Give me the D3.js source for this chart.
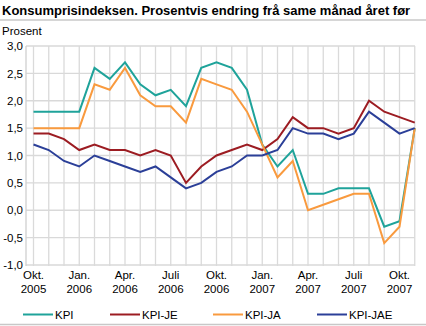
<!DOCTYPE html>
<html><head><meta charset="utf-8">
<script src="https://cdn.jsdelivr.net/npm/d3@7"></script>
<style>
body{margin:0;background:#fff;}
svg{display:block;font-family:"Liberation Sans",Arial,sans-serif;}
</style></head>
<body><svg id="c" width="426" height="326"></svg>
<script>
const months = ["Okt05","Nov05","Des05","Jan06","Feb06","Mar06","Apr06","Mai06","Jun06","Jul06","Aug06","Sep06","Okt06","Nov06","Des06","Jan07","Feb07","Mar07","Apr07","Mai07","Jun07","Jul07","Aug07","Sep07","Okt07","Nov07"];
const kpi    = [1.8,1.8,1.8,1.8,2.6,2.4,2.7,2.3,2.1,2.2,1.9,2.6,2.7,2.6,2.2,1.2,0.8,1.1,0.3,0.3,0.4,0.4,0.4,-0.3,-0.2,1.5];
const kpiJE  = [1.4,1.4,1.3,1.1,1.2,1.1,1.1,1.0,1.1,1.0,0.5,0.8,1.0,1.1,1.2,1.1,1.3,1.7,1.5,1.5,1.4,1.5,2.0,1.8,1.7,1.6];
const kpiJA  = [1.5,1.5,1.5,1.5,2.3,2.2,2.6,2.1,1.9,1.9,1.6,2.4,2.3,2.2,1.8,1.2,0.6,0.9,0.0,0.1,0.2,0.3,0.3,-0.6,-0.3,1.5];
const kpiJAE = [1.2,1.1,0.9,0.8,1.0,0.9,0.8,0.7,0.8,0.6,0.4,0.5,0.7,0.8,1.0,1.0,1.1,1.5,1.4,1.4,1.3,1.4,1.8,1.6,1.4,1.5];
const seriesNames = ["KPI","KPI-JE","KPI-JA","KPI-JAE"];
const seriesColors = ["#1fa39a","#9c1c22","#f99a3e","#2b3f98"];
const yTicks = [-1,-0.5,0,0.5,1,1.5,2,2.5,3];
const xTickMonths = ["Okt05","Jan06","Apr06","Jul06","Okt06","Jan07","Apr07","Jul07","Okt07"];
const xTickLabels = [["Okt.","2005"],["Jan.","2006"],["Apr.","2006"],["Juli","2006"],["Okt.","2006"],["Jan.","2007"],["Apr.","2007"],["Juli","2007"],["Okt.","2007"]];
const title = "Konsumprisindeksen. Prosentvis endring frå same månad året før";
const yLabel = "Prosent";

const svg = d3.select("#c");
const x = d3.scalePoint().domain(months).range([33.5, 414.75]);
const y = d3.scaleLinear().domain([-1,3]).range([265,46]);
const left = 26, right = 415;

// title
svg.append("text").attr("x",2).attr("y",15).attr("font-weight","bold").attr("font-size","13px").attr("fill","#000").text(title);
svg.append("line").attr("x1",0).attr("x2",426).attr("y1",20).attr("y2",20).attr("stroke","#c8c8c8").attr("stroke-width",1.5);
svg.append("text").attr("x",2).attr("y",35).attr("font-size","11.5px").attr("fill","#000").text(yLabel);

// grid
const g = svg.append("g");
g.selectAll("line.h").data(yTicks).join("line")
  .attr("x1",left).attr("x2",right).attr("y1",d=>y(d)).attr("y2",d=>y(d))
  .attr("stroke","#d9d9d9").attr("stroke-width",1.3);
g.selectAll("line.v").data(months).join("line")
  .attr("x1",d=>x(d)).attr("x2",d=>x(d)).attr("y1",y(3)).attr("y2",y(-1)+1)
  .attr("stroke","#dadada").attr("stroke-width",1.3);
g.append("line").attr("x1",left).attr("x2",left).attr("y1",y(3)).attr("y2",y(-1)+1)
  .attr("stroke","#d0d0d0").attr("stroke-width",1.3);

// y axis labels
const yAxis = d3.axisLeft(y).tickValues(yTicks).tickSize(0).tickPadding(0)
  .tickFormat(d=>d3.format(".1f")(d).replace(".",",").replace("−","-"));
const ya = svg.append("g").attr("transform",`translate(${left-3},0)`).call(yAxis);
ya.select(".domain").remove();
ya.selectAll("text").attr("font-size","11.5px").attr("fill","#000").attr("font-family","Liberation Sans, Arial, sans-serif");

// x labels
const xl = svg.append("g");
xTickMonths.forEach((m,i)=>{
  const t = xl.append("text").attr("x",x(m)).attr("y",279).attr("text-anchor","middle").attr("font-size","11.5px").attr("fill","#000");
  t.append("tspan").attr("x",x(m)).attr("dy",0).text(xTickLabels[i][0]);
  t.append("tspan").attr("x",x(m)).attr("dy",13.5).text(xTickLabels[i][1]);
});

// lines
const data = [kpi,kpiJE,kpiJA,kpiJAE];
const line = d3.line().x((d,i)=>x(months[i])).y(d=>y(d));
const order = [0,1,2,3];
order.forEach(k=>{
  svg.append("path").datum(data[k]).attr("d",line).attr("fill","none")
    .attr("stroke",seriesColors[k]).attr("stroke-width",2).attr("stroke-linejoin","miter");
});

// legend
const legX = [23,110,213,317];
seriesNames.forEach((n,i)=>{
  svg.append("line").attr("x1",legX[i]).attr("x2",legX[i]+30).attr("y1",314.5).attr("y2",314.5)
    .attr("stroke",seriesColors[i]).attr("stroke-width",2);
  svg.append("text").attr("x",legX[i]+32).attr("y",319).attr("font-size","11.5px").attr("fill","#000").text(n);
});
svg.append("line").attr("x1",0).attr("x2",426).attr("y1",324.5).attr("y2",324.5).attr("stroke","#c8c8c8").attr("stroke-width",1.5);
</script></body></html>
